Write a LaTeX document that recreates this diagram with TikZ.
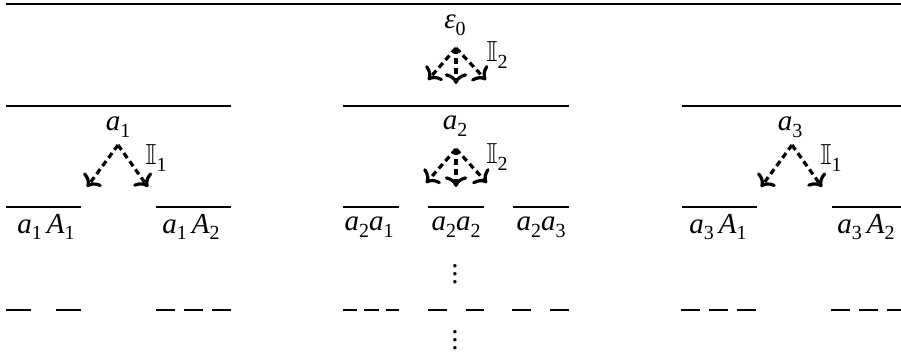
\documentclass[tikz,border=0pt]{standalone}
\usepackage{amssymb}
\usepackage{fontspec}
\setmainfont{Liberation Serif}
\usetikzlibrary{arrows.meta}
\newcommand{\vsub}[1]{\raisebox{-0.5ex}{\fontsize{10}{11}\selectfont #1}}
\newcommand{\lab}[2]{\textit{#1}\vsub{#2}}
\begin{document}
\begin{tikzpicture}[x=0.5pt,y=-0.5pt,
  every node/.style={inner sep=0pt,font=\fontsize{14.5}{16}\selectfont},
  level/.style={line width=1pt},
  topline/.style={line width=1.3pt},
  darr/.style={line width=1.6pt,dash pattern=on 3pt off 2pt,-{To[scale=1.05]}}]
\useasboundingbox (0,0) rectangle (901,353);
% top line
\draw[topline] (6,4) -- (901,4);
% top group
\node (eps) at (455,25) {\textit{ε}\vsub{0}};
\coordinate (t0) at (456,48);
\coordinate (tl) at (428,80);
\coordinate (tm) at (456,84);
\coordinate (tr) at (486,80);
\draw[darr] (t0) -- (tl);
\draw[darr] (t0) -- (tm);
\draw[darr] (t0) -- (tr);
\node (I0) at (497,55) {$\mathbb{I}$\vsub{2}};
% level 1 lines
\draw[level] (6,106) -- (231,106);
\draw[level] (343,106) -- (569,106);
\draw[level] (682,106) -- (901,106);
\node (a1) at (118,127) {\lab{a}{1}};
\node (a2) at (455,126) {\lab{a}{2}};
\node (a3) at (790,127) {\lab{a}{3}};
% group a1
\coordinate (p1) at (118,145);
\coordinate (p1l) at (87,187);
\coordinate (p1r) at (148,187);
\draw[darr] (p1) -- (p1l);
\draw[darr] (p1) -- (p1r);
\node (I1) at (156,158) {$\mathbb{I}$\vsub{1}};
% group a2
\coordinate (p2) at (456,149);
\coordinate (p2l) at (426,183);
\coordinate (p2m) at (456,187);
\coordinate (p2r) at (487,183);
\draw[darr] (p2) -- (p2l);
\draw[darr] (p2) -- (p2m);
\draw[darr] (p2) -- (p2r);
\node (I2) at (497,157) {$\mathbb{I}$\vsub{2}};
% group a3
\coordinate (p3) at (792,145);
\coordinate (p3l) at (761,187);
\coordinate (p3r) at (822,187);
\draw[darr] (p3) -- (p3l);
\draw[darr] (p3) -- (p3r);
\node (I3) at (831,158) {$\mathbb{I}$\vsub{1}};
% level 2 lines
\draw[level] (6,207) -- (81,207);
\draw[level] (156,207) -- (231,207);
\draw[level] (343,207) -- (399,207);
\draw[level] (428,207) -- (484,207);
\draw[level] (513,207) -- (569,207);
\draw[level] (682,207) -- (757,207);
\draw[level] (832,207) -- (901,207);
\node (b11) at (46,227) {\lab{a}{1}\,\lab{A}{1}};
\node (b12) at (191,227) {\lab{a}{1}\,\lab{A}{2}};
\node (b21) at (369,227) {\lab{a}{2}\lab{a}{1}};
\node (b22) at (456,227) {\lab{a}{2}\lab{a}{2}};
\node (b23) at (541,227) {\lab{a}{2}\lab{a}{3}};
\node (b31) at (718,227) {\lab{a}{3}\,\lab{A}{1}};
\node (b32) at (866,227) {\lab{a}{3}\,\lab{A}{2}};
% vdots
\node (v1) at (455,268) {$\vdots$};
\node (v2) at (455,334) {$\vdots$};
% dash row
\draw[level] (6,310) -- (31,310);
\draw[level] (56,310) -- (81,310);
\draw[level] (156,310) -- (175,310);
\draw[level] (184,310) -- (203,310);
\draw[level] (212,310) -- (231,310);
\draw[level] (343,310) -- (357,310);
\draw[level] (364,310) -- (379,310);
\draw[level] (386,310) -- (399,310);
\draw[level] (428,310) -- (447,310);
\draw[level] (466,310) -- (484,310);
\draw[level] (512,310) -- (531,310);
\draw[level] (550,310) -- (569,310);
\draw[level] (681,310) -- (700,310);
\draw[level] (709,310) -- (728,310);
\draw[level] (737,310) -- (756,310);
\draw[level] (831,310) -- (850,310);
\draw[level] (859,310) -- (878,310);
\draw[level] (887,310) -- (901,310);
\end{tikzpicture}
\end{document}
